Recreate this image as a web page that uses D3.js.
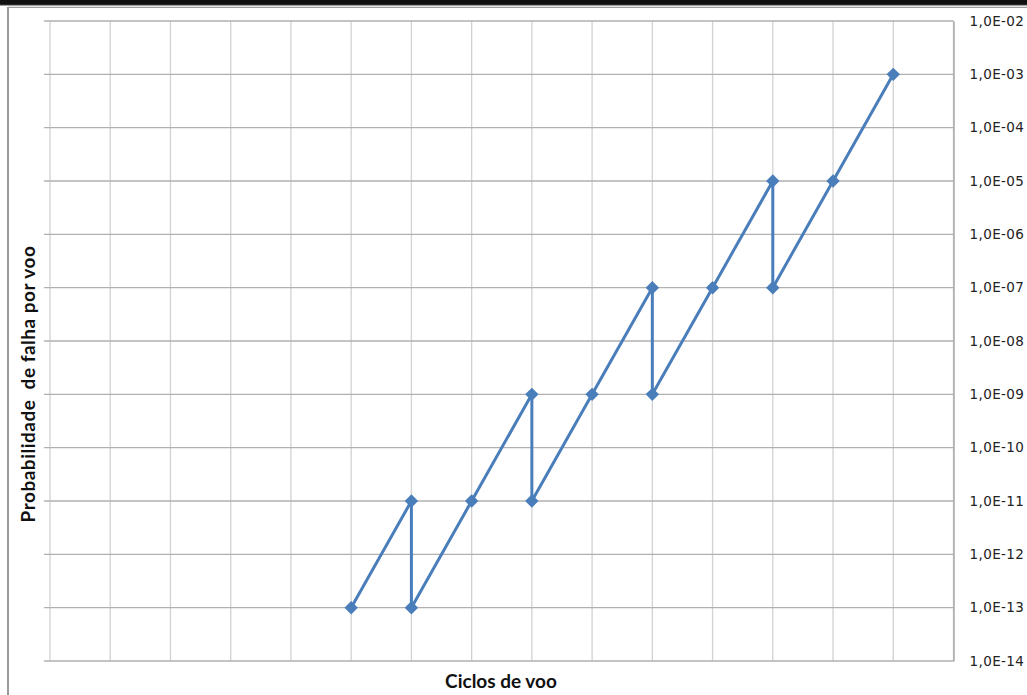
<!DOCTYPE html>
<html>
<head>
<meta charset="utf-8">
<script src="https://cdn.jsdelivr.net/npm/d3@7"></script>
<style>
  html, body { margin: 0; padding: 0; background: #fff; }
  svg { display: block; }
</style>
</head>
<body>
<svg id="chart" width="1027" height="695"></svg>
<script>
// Flight cycles (category position) and failure probability per flight
const cycles = [5, 6, 6, 7, 8, 8, 9, 10, 10, 11, 12, 12, 13, 14];
const probability = [1e-13, 1e-11, 1e-13, 1e-11, 1e-9, 1e-11, 1e-9, 1e-7, 1e-9, 1e-7, 1e-5, 1e-7, 1e-5, 1e-3];

// Axis ticks
const xTicks = d3.range(0, 16);
const yTickExponents = d3.range(-14, -1);
const yTickLabels = yTickExponents.map(e => "1,0E-" + String(-e).padStart(2, "0"));

const xTitle = "Ciclos de voo";
const yTitle = "Probabilidade  de falha por voo";

const svg = d3.select("#chart");
const W = 1027, H = 695;
const plot = { left: 50, right: 953.5, top: 21, bottom: 661 };

const x = d3.scaleLinear().domain([0, 15]).range([plot.left, plot.right]);
const y = d3.scaleLog().domain([1e-14, 1e-2]).range([plot.bottom, plot.top]);

// Frame: heavy top rule and thin gray borders
svg.append("rect").attr("x", 0).attr("y", 0).attr("width", W).attr("height", 5).attr("fill", "#111");
svg.append("line").attr("x1", 0).attr("x2", W).attr("y1", 5.3).attr("y2", 5.3)
  .attr("stroke", "#888").attr("stroke-width", 1);
svg.append("line").attr("x1", 8).attr("x2", W).attr("y1", 7.4).attr("y2", 7.4)
  .attr("stroke", "#a0a0a0").attr("stroke-width", 1.2);
svg.append("line").attr("x1", 8).attr("x2", 8).attr("y1", 7).attr("y2", H)
  .attr("stroke", "#9a9a9a").attr("stroke-width", 2);

// Vertical gridlines
svg.append("g")
  .selectAll("line")
  .data(xTicks)
  .join("line")
  .attr("x1", d => x(d)).attr("x2", d => x(d))
  .attr("y1", plot.top).attr("y2", plot.bottom)
  .attr("stroke", "#d2d2d2")
  .attr("stroke-width", 1.3);

// Horizontal gridlines (extend slightly left of the plot)
svg.append("g")
  .selectAll("line")
  .data(yTickExponents)
  .join("line")
  .attr("x1", plot.left - 6).attr("x2", plot.right)
  .attr("y1", d => y(Math.pow(10, d))).attr("y2", d => y(Math.pow(10, d)))
  .attr("stroke", "#b0b0b0")
  .attr("stroke-width", 1.3);

// Right value axis
const yAxis = d3.axisRight(y)
  .tickValues(yTickExponents.map(e => Math.pow(10, e)))
  .tickFormat((d, i) => yTickLabels[i])
  .tickSize(0)
  .tickPadding(16);

const gy = svg.append("g")
  .attr("transform", `translate(${plot.right},0)`)
  .call(yAxis);
gy.select(".domain").attr("stroke", "#a0a0a0").attr("stroke-width", 1.3);
gy.selectAll("text")
  .attr("font-family", "'DejaVu Sans', sans-serif")
  .attr("font-size", 13.5)
  .attr("letter-spacing", 0.4)
  .attr("fill", "#222");

// Series line
const line = d3.line()
  .x((d, i) => x(cycles[i]))
  .y(d => y(d));

svg.append("path")
  .datum(probability)
  .attr("d", line)
  .attr("fill", "none")
  .attr("stroke", "#4a7ebb")
  .attr("stroke-width", 3)
  .attr("stroke-linejoin", "round");

// Diamond markers
const diamond = d3.symbol().type(d3.symbolSquare).size(90);
svg.append("g")
  .selectAll("path")
  .data(probability)
  .join("path")
  .attr("d", diamond)
  .attr("transform", (d, i) => `translate(${x(cycles[i])},${y(d)}) rotate(45)`)
  .attr("fill", "#4a7ebb");

// Axis titles
svg.append("text")
  .attr("x", 501).attr("y", 688)
  .attr("text-anchor", "middle")
  .attr("font-family", "Lato, 'Open Sans', sans-serif")
  .attr("font-weight", "bold")
  .attr("font-size", 19)
  .attr("fill", "#111")
  .text(xTitle);

svg.append("text")
  .attr("transform", "translate(35,384) rotate(-90)")
  .attr("text-anchor", "middle")
  .attr("font-family", "Lato, 'Open Sans', sans-serif")
  .attr("font-weight", "bold")
  .attr("font-size", 19)
  .attr("letter-spacing", 0.5)
  .attr("fill", "#111")
  .style("white-space", "pre")
  .text(yTitle);
</script>
</body>
</html>
